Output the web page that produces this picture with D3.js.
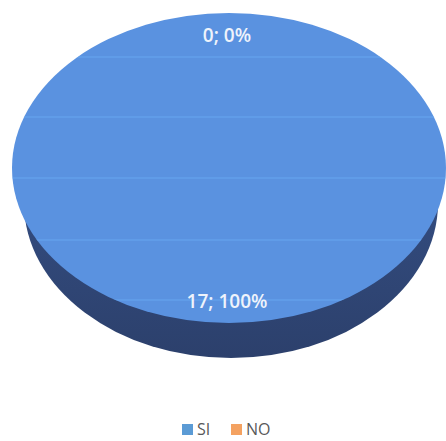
<!DOCTYPE html>
<html><head><meta charset="utf-8">
<script src="https://cdn.jsdelivr.net/npm/d3@7"></script>
<style>body{margin:0;background:#fff}svg{display:block}</style>
</head><body>
<svg id="c" width="446" height="441"></svg>
<script>
const categories = ["SI", "NO"];
const values = [17, 0];
const colors = ["#5b9bd5", "#f4a261"];

const svg = d3.select("#c");
const W = 446, H = 441;
const cx = 229, cy = 168, rx = 217, ry = 155, depth = 35;
const total = d3.sum(values);

const pie = d3.pie().sort(null).value(d => d.v);
const data = pie(categories.map((c, i) => ({c, v: values[i], i})));

const defs = svg.append("defs");
const g = defs.append("linearGradient").attr("id","side").attr("x1",0).attr("x2",0).attr("y1",0).attr("y2",1);
g.append("stop").attr("offset","0%").attr("stop-color","#3a5790");
g.append("stop").attr("offset","100%").attr("stop-color","#2c406c");
defs.append("clipPath").attr("id","topclip").append("ellipse")
  .attr("cx",cx).attr("cy",cy).attr("rx",rx).attr("ry",ry);

// side (bottom of the disc)
svg.append("ellipse").attr("cx",cx+2).attr("cy",cy+depth).attr("rx",rx-10).attr("ry",ry)
  .attr("fill","url(#side)");

// top face slices
const arc = d3.arc().innerRadius(0).outerRadius(rx);
const topG = svg.append("g").attr("transform",`translate(${cx},${cy}) scale(1,${ry/rx})`);
topG.selectAll("path").data(data.filter(d => d.endAngle > d.startAngle)).join("path")
  .attr("d", arc).attr("fill", "#5a92e0");

// faint scan stripes
const stripes = [57, 117, 178, 240, 300];
svg.append("g").attr("clip-path","url(#topclip)").selectAll("line").data(stripes).join("line")
  .attr("x1",0).attr("x2",W).attr("y1",d=>d).attr("y2",d=>d)
  .attr("stroke","#6aaaf2").attr("stroke-width",1.5).attr("opacity",0.6);

// labels
const lf = 0.855;
svg.selectAll("text.lbl").data(data).join("text").attr("class","lbl")
  .attr("x", d => cx - 2)
  .attr("y", d => { const a=(d.startAngle+d.endAngle)/2; return cy - Math.cos(a)*ry*lf + 7; })
  .attr("text-anchor","middle")
  .attr("font-family","'Open Sans', 'Liberation Sans', sans-serif")
  .attr("font-size",19).attr("font-weight",600).attr("fill","#eef3fb")
  .text(d => `${d.data.v}; ${Math.round(d.data.v/total*100)}%`);

// legend
const leg = svg.append("g");
const lx = [182, 231];
categories.forEach((c, i) => {
  leg.append("rect").attr("x",lx[i]).attr("y",424).attr("width",11).attr("height",11).attr("fill",colors[i]);
  leg.append("text").attr("x",lx[i]+15).attr("y",435)
    .attr("font-family","'Open Sans', 'Liberation Sans', sans-serif")
    .attr("font-size",16).attr("fill","#595959").text(c);
});
</script>
</body></html>
